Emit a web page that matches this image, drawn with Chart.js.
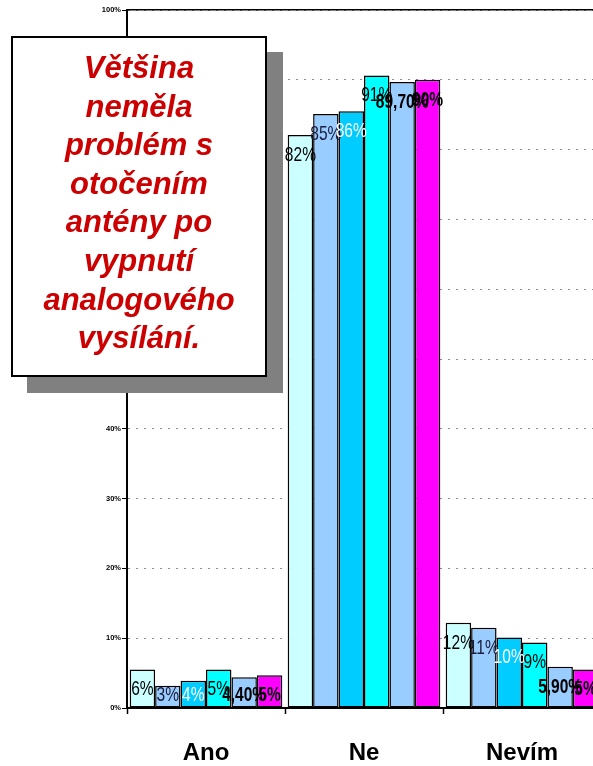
<!DOCTYPE html>
<html>
<head>
<meta charset="utf-8">
<script src="https://cdn.jsdelivr.net/npm/chart.js@4"></script>
<style>
    html, body { margin: 0; padding: 0; background: #fff; overflow: hidden; }
    #wrap { position: relative; width: 602px; height: 766px; }
    #note {
        position: absolute; left: 11px; top: 36px; width: 252px; height: 326px;
        border: 2px solid #000; background: #fff; box-shadow: 16px 16px 0 #808080;
        font: italic bold 31px "Liberation Sans", Arial, sans-serif; color: #cc0000;
        text-align: center; line-height: 38.6px; padding-top: 11px; box-sizing: content-box;
    }
</style>
</head>
<body>
<div id="wrap">
    <canvas id="chart"></canvas>
    <div id="note">Většina<br>neměla<br>problém s<br>otočením<br>antény po<br>vypnutí<br>analogového<br>vysílání.</div>
</div>
<script>
const categories = ["Ano", "Ne", "Nevím"];

const s1 = [5.5, 82.1, 12.2];
const s2 = [3.2, 85.1, 11.5];
const s3 = [3.9, 85.5, 10.1];
const s4 = [5.5, 90.6, 9.4];
const s5 = [4.4, 89.7, 5.9];
const s6 = [4.7, 90.0, 5.5];

const l1 = ["6%", "82%", "12%"];
const l2 = ["3%", "85%", "11%"];
const l3 = ["4%", "86%", "10%"];
const l4 = ["5%", "91%", "9%"];
const l5 = ["4,40%", "89,70%", "5,90%"];
const l6 = ["5%", "90%", "5%"];

const yTicks = [0, 10, 20, 30, 40, 50, 60, 70, 80, 90, 100];

const series = [s1, s2, s3, s4, s5, s6];
const labels = [l1, l2, l3, l4, l5, l6];
const fills = ["#ccffff", "#99ccff", "#00ccff", "#00ffff", "#99ccff", "#ff00ff"];
const labelColors = ["#000", "#1c1c3c", "#fff", "#000", "#000", "#000"];
const labelBold = [false, false, false, false, true, true];

// value labels near the top inside each bar, squeezed sideways like the original
const barLabels = {
    id: "barLabels",
    afterDatasetsDraw(chart) {
        const ctx = chart.ctx;
        const base = chart.scales.y.getPixelForValue(0);
        chart.data.datasets.forEach((ds, i) => {
            const meta = chart.getDatasetMeta(i);
            meta.data.forEach((bar, j) => {
                const y = Math.min(bar.y + 20, base - 13);
                ctx.save();
                ctx.font = (labelBold[i] ? "bold " : "") + '21px "Liberation Sans", Arial, sans-serif';
                ctx.fillStyle = labelColors[i];
                ctx.textAlign = "center";
                ctx.textBaseline = "middle";
                ctx.translate(bar.x, y);
                ctx.scale(0.74, 1);
                ctx.fillText(labels[i][j], 0, 0);
                ctx.restore();
            });
        });
    }
};

const ctx = document.getElementById("chart").getContext("2d");
new Chart(ctx, {
    type: "bar",
    data: {
        labels: categories,
        datasets: series.map((d, i) => ({
            data: d,
            backgroundColor: fills[i],
            borderColor: "#000",
            borderWidth: 1.5,
            borderSkipped: false,
            categoryPercentage: 0.966,
            barPercentage: 1
        }))
    },
    options: {
        responsive: true,
        maintainAspectRatio: false,
        animation: false,
        layout: { padding: { top: 10, right: 1, left: 0, bottom: 0 } },
        plugins: {
            legend: { display: false },
            tooltip: { enabled: false }
        },
        scales: {
            x: {
                grid: {
                    drawOnChartArea: false,
                    tickLength: 6,
                    tickColor: "#000",
                    tickWidth: 1.5
                },
                border: { color: "#000", width: 2 },
                ticks: {
                    color: "#000",
                    padding: 25,
                    font: { family: "Liberation Sans", size: 24, weight: "bold" }
                },
                afterFit: s => { s.height = 58; }
            },
            x2: {
                type: "category",
                labels: categories,
                position: "top",
                grid: { drawOnChartArea: false, drawTicks: false },
                ticks: { display: false },
                border: { color: "#000", width: 1.5 },
                afterFit: s => { s.height = 0; }
            },
            y: {
                min: 0,
                max: 100,
                afterBuildTicks: s => { s.ticks = yTicks.map(v => ({ value: v })); },
                grid: {
                    color: c => c.tick && c.tick.value === 0 ? "rgba(0,0,0,0)" : "#8c8c8c",
                    lineWidth: 1,
                    tickLength: 5,
                    tickColor: "#000",
                    tickWidth: 1,
                    tickBorderDash: []
                },
                border: { color: "#000", width: 2, dash: [2, 6] },
                ticks: {
                    color: "#000",
                    padding: 1,
                    font: { family: "Liberation Sans", size: 7.5, weight: "bold" },
                    callback: v => v + "%"
                },
                afterFit: s => { s.width = 127; }
            }
        }
    },
    plugins: [barLabels]
});
</script>
</body>
</html>
